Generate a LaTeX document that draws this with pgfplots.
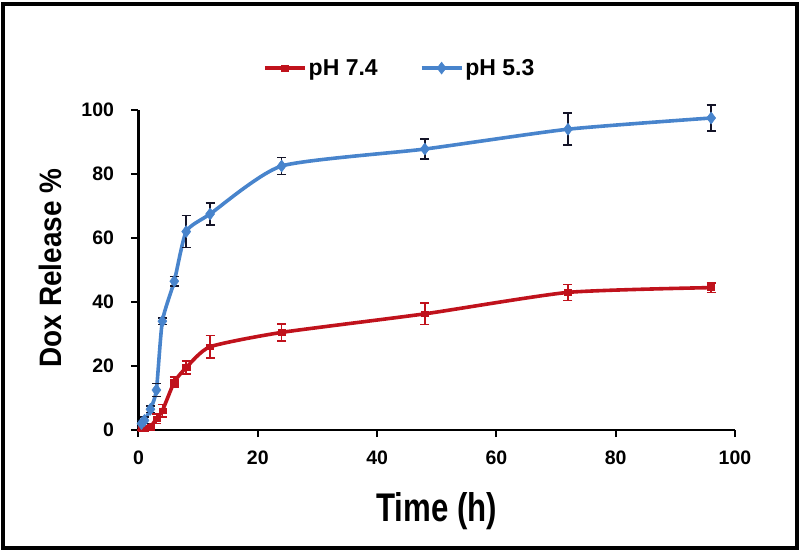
\documentclass[border=0pt]{standalone}
\usepackage{pgfplots}
\pgfplotsset{compat=1.18}
\usepackage{pgfplotstable}
\usepackage{fontspec}
\setmainfont{Liberation Sans}
\newfontfamily\narrowA[FakeStretch=0.78]{Liberation Sans}
\newfontfamily\narrowB[FakeStretch=0.9]{Liberation Sans}
\definecolor{redc}{RGB}{192,18,28}
\definecolor{bluec}{RGB}{72,132,204}
\definecolor{errb}{RGB}{20,20,40}

\pgfplotstableread{
x y e
0.5 0.5 0.5
1 0.5 0.5
2 1 1
3 3.5 1.5
4 6 2
6 15 1.5
8 19.5 2
12 26 3.5
24 30.5 2.6
48 36.3 3.3
72 43 2.5
96 44.5 1.5
}\redtab

\pgfplotstableread{
x y e
0.5 2 1
1 3 1
2 6.5 1
3 12.5 2
4 34 1
6 46.5 1.5
8 62 5
12 67.5 3.5
24 82.5 2.6
48 87.8 3.2
72 94 5
96 97.5 4
}\bluetab

\begin{document}
\begin{tikzpicture}
\useasboundingbox (-138.5pt,-122pt) rectangle (661.5pt,430pt);
\draw[line width=4pt, black] (-135.5pt,-118pt) rectangle (658.5pt,426pt);
\begin{axis}[
  scale only axis,
  width=596.5pt, height=320pt,
  xmin=0, xmax=100, ymin=0, ymax=100,
  axis x line=bottom, axis y line=left,
  axis line style={line width=2.4pt, -},
  xtick={0,20,...,100}, ytick={0,20,...,100},
  tick align=outside,
  major tick length=7pt,
  tick style={line width=2pt, black},
  clip=false,
  tick label style={font=\fontsize{19.5}{22}\selectfont\bfseries},
  /pgf/number format/assume math mode=true,
  xticklabel style={yshift=-10pt},
  yticklabel style={xshift=-14pt},
  xlabel={\narrowA\fontsize{40}{44}\selectfont\bfseries Time (h)},
  xlabel style={at={(axis description cs:0.5,-0.253)}, anchor=center},
  ylabel={\narrowB\fontsize{31}{34}\selectfont\bfseries Dox Release \%},
  ylabel style={at={(axis description cs:-0.148,0.506)}, anchor=center},
  legend columns=2,
  legend style={draw=none, fill=none, at={(axis description cs:0.438,1.131)}, anchor=center,
    font=\fontsize{23}{26}\selectfont\bfseries,
    /tikz/every even column/.append style={column sep=40pt}},
  legend cell align=left,
  legend image code/.code={\draw[mark repeat=2,mark phase=2] plot coordinates {(0pt,0pt) (20pt,0pt) (40pt,0pt)};},
]
\addplot+[smooth, tension=0.35, color=redc, line width=3.6pt,
  mark=square*, mark size=3.6pt, mark options={solid, fill=redc, draw=redc, line width=0.5pt, yscale=0.8},
  error bars/.cd, y dir=both, y explicit,
  error bar style={line width=1.6pt, redc},
  error mark options={rotate=90, mark size=4.5pt, line width=1.6pt, redc}]
  table[x=x, y=y, y error=e] {\redtab};
\addlegendentry{pH 7.4}
\addplot+[smooth, tension=0.35, color=bluec, line width=3.6pt,
  mark=diamond*, mark size=6pt, mark options={solid, fill=bluec, draw=bluec, line width=0.5pt},
  error bars/.cd, y dir=both, y explicit,
  error bar style={line width=1.6pt, errb},
  error mark options={rotate=90, mark size=4.5pt, line width=1.6pt, errb}]
  table[x=x, y=y, y error=e] {\bluetab};
\addlegendentry{pH 5.3}
\end{axis}
\end{tikzpicture}
\end{document}
